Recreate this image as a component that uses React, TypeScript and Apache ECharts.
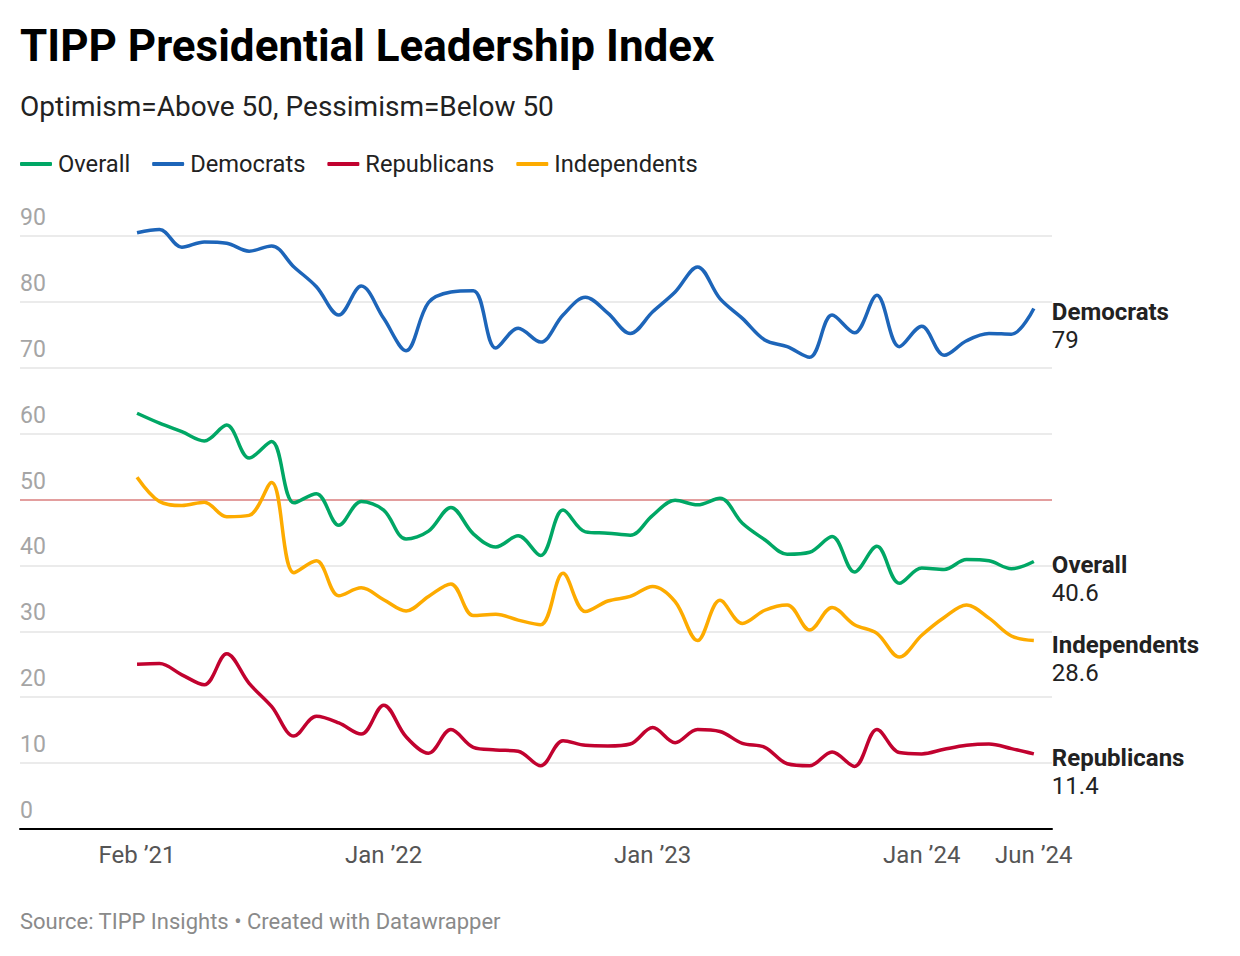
import React, { useEffect, useRef } from "react";
import * as echarts from "echarts";

const months: string[] = [];
for (let y = 2021; y <= 2024; y++) {
  for (let m = 1; m <= 12; m++) {
    if ((y === 2021 && m < 2) || (y === 2024 && m > 6)) continue;
    months.push(`${y}-${String(m).padStart(2, "0")}`);
  }
}

const overall = [63.1, 61.6, 60.3, 58.9, 61.3, 56.3, 58.8, 49.5, 50.9, 46.1, 49.7, 48.4, 44.0, 45.2, 48.8, 44.8, 42.8, 44.5, 41.5, 48.4, 45.1, 44.9, 44.6, 47.6, 49.9, 49.2, 50.2, 46.4, 43.9, 41.7, 42.0, 44.4, 39.0, 42.9, 37.3, 39.6, 39.4, 40.9, 40.7, 39.5, 40.6];
const democrats = [90.5, 91.0, 88.3, 89.1, 88.9, 87.7, 88.5, 85.3, 82.3, 78.0, 82.4, 77.5, 72.6, 79.9, 81.5, 81.7, 73.0, 76.0, 73.9, 78.0, 80.7, 78.3, 75.2, 78.5, 81.5, 85.3, 80.5, 77.5, 74.2, 73.2, 71.6, 78.0, 75.3, 81.0, 73.2, 76.3, 71.9, 74.1, 75.2, 75.1, 79];
const republicans = [25.0, 25.1, 23.4, 21.9, 26.6, 22.1, 18.6, 14.1, 17.1, 16.1, 14.4, 18.8, 14.0, 11.5, 15.1, 12.4, 12.0, 11.8, 9.6, 13.4, 12.7, 12.6, 12.9, 15.4, 13.1, 15.1, 14.8, 13.0, 12.4, 9.9, 9.6, 11.7, 9.5, 15.1, 11.6, 11.4, 12.1, 12.7, 12.9, 12.2, 11.4];
const independents = [53.4, 49.7, 49.1, 49.6, 47.4, 47.6, 52.6, 38.9, 40.7, 35.4, 36.6, 34.8, 33.1, 35.3, 37.2, 32.4, 32.6, 31.7, 31.0, 38.8, 33.0, 34.6, 35.3, 36.8, 34.5, 28.6, 34.7, 31.2, 33.2, 34.0, 30.2, 33.6, 31.0, 29.7, 26.1, 29.4, 32.1, 34.0, 32.0, 29.3, 28.6];

const tickIndices = [0, 11, 23, 35, 40];
const tickLabels = ["Feb \u201921", "Jan \u201922", "Jan \u201923", "Jan \u201924", "Jun \u201924"];
const yTicks = [0, 10, 20, 30, 40, 50, 60, 70, 80, 90];

const seriesDefs = [
  { name: "Overall", values: overall, color: "#00a765" },
  { name: "Democrats", values: democrats, color: "#1d65b9" },
  { name: "Republicans", values: republicans, color: "#c1022f" },
  { name: "Independents", values: independents, color: "#fdab00" },
];

const FONT = "Roboto, 'Noto Sans', sans-serif";

export default function App() {
  const ref = useRef<HTMLDivElement>(null);
  useEffect(() => {
    if (!ref.current) return;
    const chart = echarts.init(ref.current, undefined, { renderer: "svg" });
    const option: any = {
      animation: false,
      backgroundColor: "#ffffff",
      textStyle: { fontFamily: FONT },
      title: [
        {
          text: "TIPP Presidential Leadership Index",
          left: 7,
          top: 11,
          textStyle: { fontSize: 44, fontWeight: "bold", color: "#000", fontFamily: FONT },
        },
        {
          text: "Optimism=Above 50, Pessimism=Below 50",
          left: 7,
          top: 79,
          textStyle: { fontSize: 28, fontWeight: "normal", color: "#222", fontFamily: FONT },
        },
        {
          text: "Source: TIPP Insights \u2022 Created with Datawrapper",
          left: 7,
          top: 897,
          textStyle: { fontSize: 22, fontWeight: "normal", color: "#8a8a8a", fontFamily: FONT },
        },
      ],
      legend: {
        left: 7,
        top: 139,
        icon: "roundRect",
        itemWidth: 32,
        itemHeight: 4,
        itemGap: 22,
        textStyle: { fontSize: 23.7, color: "#222", fontFamily: FONT, padding: [0, 0, 0, 1] },
        data: seriesDefs.map((s) => s.name),
      },
      grid: { left: 12, right: 180, top: 228, bottom: 119, containLabel: false },
      xAxis: {
        type: "value",
        min: -5.22,
        max: 40.81,
        splitLine: { show: false },
        axisTick: { show: false },
        axisLine: { show: true, lineStyle: { color: "#000", width: 2 } },
        axisLabel: {
          customValues: tickIndices,
          formatter: (v: number) => {
            const k = tickIndices.indexOf(Math.round(v));
            return k >= 0 ? tickLabels[k] : "";
          },
          fontSize: 24,
          color: "#555",
          margin: 14,
          fontFamily: FONT,
        },
      },
      yAxis: {
        type: "value",
        min: 0,
        max: 90,
        interval: 10,
        axisLine: { show: false },
        axisTick: { show: false },
        splitLine: { show: true, lineStyle: { color: "#e4e4e4", width: 1.5 } },
        axisLabel: {
          inside: true,
          margin: 0,
          verticalAlign: "bottom",
          padding: [0, 0, 7, 0],
          fontSize: 23,
          color: "#a5a5a5",
          fontFamily: FONT,
          formatter: (v: number) => (yTicks.includes(v) ? String(v) : ""),
        },
      },
      series: seriesDefs.map((s, idx) => ({
        name: s.name,
        type: "line",
        data: s.values.map((v, i) => [i, v]),
        smooth: 0.35,
        symbol: "none",
        clip: false,
        lineStyle: { color: s.color, width: 3.5 },
        itemStyle: { color: s.color },
        z: 3,
        endLabel: {
          show: true,
          distance: 18,
          offset: [0, 18],
          formatter: (p: any) => `{n|${s.name}}\n{v|${p.value[1]}}`,
          rich: {
            n: { fontSize: 24, fontWeight: "bold", color: "#222", lineHeight: 28, fontFamily: FONT },
            v: { fontSize: 24, color: "#222", lineHeight: 28, fontFamily: FONT },
          },
        },
        markLine:
          idx === 0
            ? {
                silent: true,
                symbol: "none",
                label: { show: false },
                lineStyle: { color: "#e08585", width: 1.5, type: "solid" },
                data: [{ yAxis: 50 }],
                z: 2,
              }
            : undefined,
      })),
    };
    chart.setOption(option);
    return () => chart.dispose();
  }, []);
  return <div ref={ref} style={{ width: 1224, height: 940 }} />;
}
